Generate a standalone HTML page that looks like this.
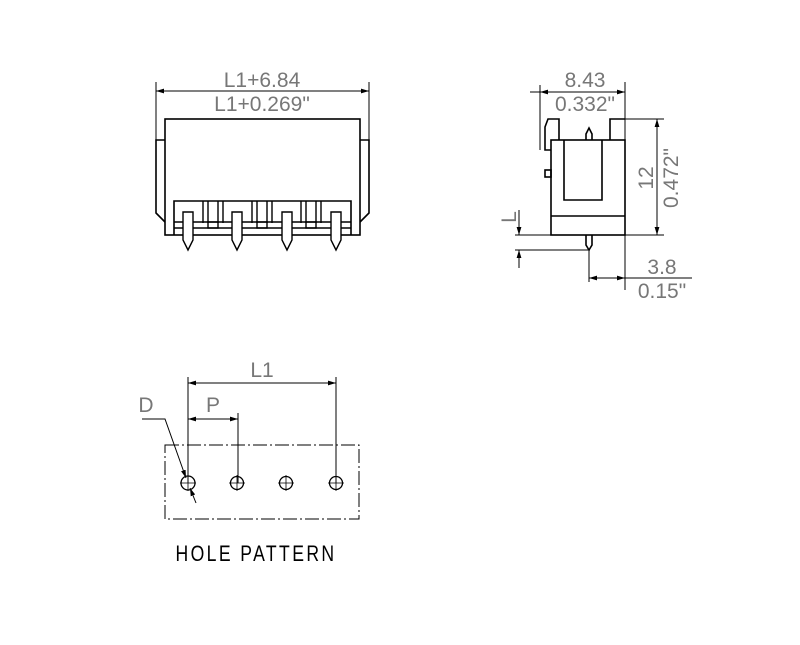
<!DOCTYPE html>
<html><head><style>
body{margin:0;background:#fff;}
svg{display:block;}
text{font-family:"Liberation Sans",sans-serif;fill:#777;}
</style></head><body>
<svg width="800" height="645" viewBox="0 0 800 645" xmlns="http://www.w3.org/2000/svg">
<defs>
<marker id="a" viewBox="0 0 10 6" refX="10" refY="3" markerWidth="8" markerHeight="5" orient="auto-start-reverse"><path d="M0,0L10,3L0,6z" fill="#000"/></marker>
</defs>
<g stroke="#000" fill="none" stroke-width="1">
<line x1="156" y1="91" x2="369" y2="91" marker-start="url(#a)" marker-end="url(#a)"/>
<line x1="156" y1="82" x2="156" y2="140"/>
<line x1="369" y1="82" x2="369" y2="140"/>
<g stroke-width="1.6">
<rect x="165" y="119" width="195" height="116"/>
<path d="M165,140 L156,140 L156,213 L165,222"/>
<path d="M360,140 L369,140 L369,213 L360,222"/>
<path d="M174,235 L174,201 L351,201 L351,235"/>
<line x1="174" y1="222" x2="351" y2="222"/>
<line x1="174" y1="228" x2="351" y2="228"/>
</g>
<g stroke-width="1.4">
<path d="M183,212h10v28l-5,10l-5,-10z" fill="#fff"/>
<path d="M232,212h10v28l-5,10l-5,-10z" fill="#fff"/>
<path d="M282,212h10v28l-5,10l-5,-10z" fill="#fff"/>
<path d="M331,212h10v28l-5,10l-5,-10z" fill="#fff"/>
<path d="M203,201v22M223,201v22M208,201v22M218,201v22"/>
<rect x="208" y="222" width="10" height="6"/>
<path d="M252,201v22M272,201v22M257,201v22M267,201v22"/>
<rect x="257" y="222" width="10" height="6"/>
<path d="M301,201v22M321,201v22M306,201v22M316,201v22"/>
<rect x="306" y="222" width="10" height="6"/>
</g>
<line x1="540" y1="92" x2="625" y2="92" marker-start="url(#a)" marker-end="url(#a)"/>
<line x1="530" y1="92" x2="540" y2="92"/>
<line x1="540" y1="85" x2="540" y2="150"/>
<line x1="625" y1="82" x2="625" y2="290"/>
<line x1="625" y1="119" x2="664" y2="119"/>
<line x1="625" y1="235" x2="664" y2="235"/>
<line x1="657" y1="119" x2="657" y2="235" marker-start="url(#a)" marker-end="url(#a)"/>
<g stroke-width="1.6">
<rect x="551" y="140" width="74" height="95"/>
<path d="M564,140V200H602V140"/>
<line x1="551" y1="216" x2="625" y2="216"/>
<path d="M551,150H545V127L548,119H559V140"/>
<path d="M610,140V119H625"/>
<rect x="545" y="170" width="6" height="7"/>
<path d="M586,140V134L589,128L592,134V140"/>
<path d="M586,235V245L589,250L592,245V235"/>
</g>
<line x1="515" y1="235" x2="590" y2="235"/>
<line x1="515" y1="250" x2="590" y2="250"/>
<line x1="519" y1="210" x2="519" y2="235" marker-end="url(#a)"/>
<line x1="519" y1="268" x2="519" y2="250" marker-end="url(#a)"/>
<line x1="589" y1="250" x2="589" y2="282"/>
<line x1="589" y1="278" x2="625" y2="278" marker-start="url(#a)" marker-end="url(#a)"/>
<line x1="625" y1="278" x2="692" y2="278"/>
<line x1="188" y1="383" x2="336" y2="383" marker-start="url(#a)" marker-end="url(#a)"/>
<line x1="188" y1="419" x2="238" y2="419" marker-start="url(#a)" marker-end="url(#a)"/>
<line x1="188" y1="377" x2="188" y2="483"/>
<line x1="238" y1="413" x2="238" y2="483"/>
<line x1="336" y1="377" x2="336" y2="483"/>
<rect x="165" y="445" width="194" height="74" stroke-dasharray="14,3,2,3"/>
<path d="M142,419H165L186,478" marker-end="url(#a)"/>
<line x1="196" y1="503" x2="190" y2="488" marker-end="url(#a)"/>
<g stroke-width="1.3">
<circle cx="188" cy="483" r="7"/><circle cx="237" cy="483" r="6.5"/><circle cx="286" cy="483" r="6.5"/><circle cx="336" cy="483" r="6.5"/>
</g>
<g stroke-width="0.8">
<path d="M180,483h16M188,475v16M229,483h16M237,475v16M278,483h16M286,475v16M328,483h16M336,475v16"/>
</g>
</g>
<g font-size="21">
<text x="262" y="87" text-anchor="middle">L1+6.84</text>
<text x="262" y="111" text-anchor="middle">L1+0.269"</text>
<text x="585" y="87" text-anchor="middle">8.43</text>
<text x="585" y="111" text-anchor="middle">0.332"</text>
<text transform="translate(653,178) rotate(-90)" text-anchor="middle">12</text>
<text transform="translate(678,178) rotate(-90)" text-anchor="middle">0.472"</text>
<text transform="translate(516,217) rotate(-90)" text-anchor="middle">L</text>
<text x="662" y="274" text-anchor="middle">3.8</text>
<text x="662" y="298" text-anchor="middle">0.15"</text>
<text x="262" y="377" text-anchor="middle">L1</text>
<text x="213" y="412" text-anchor="middle">P</text>
<text x="146" y="412" text-anchor="middle">D</text>
</g>
<text transform="translate(256,561) scale(0.8,1)" text-anchor="middle" font-size="22" style="fill:#000;letter-spacing:3px">HOLE PATTERN</text>
</svg>
</body></html>
